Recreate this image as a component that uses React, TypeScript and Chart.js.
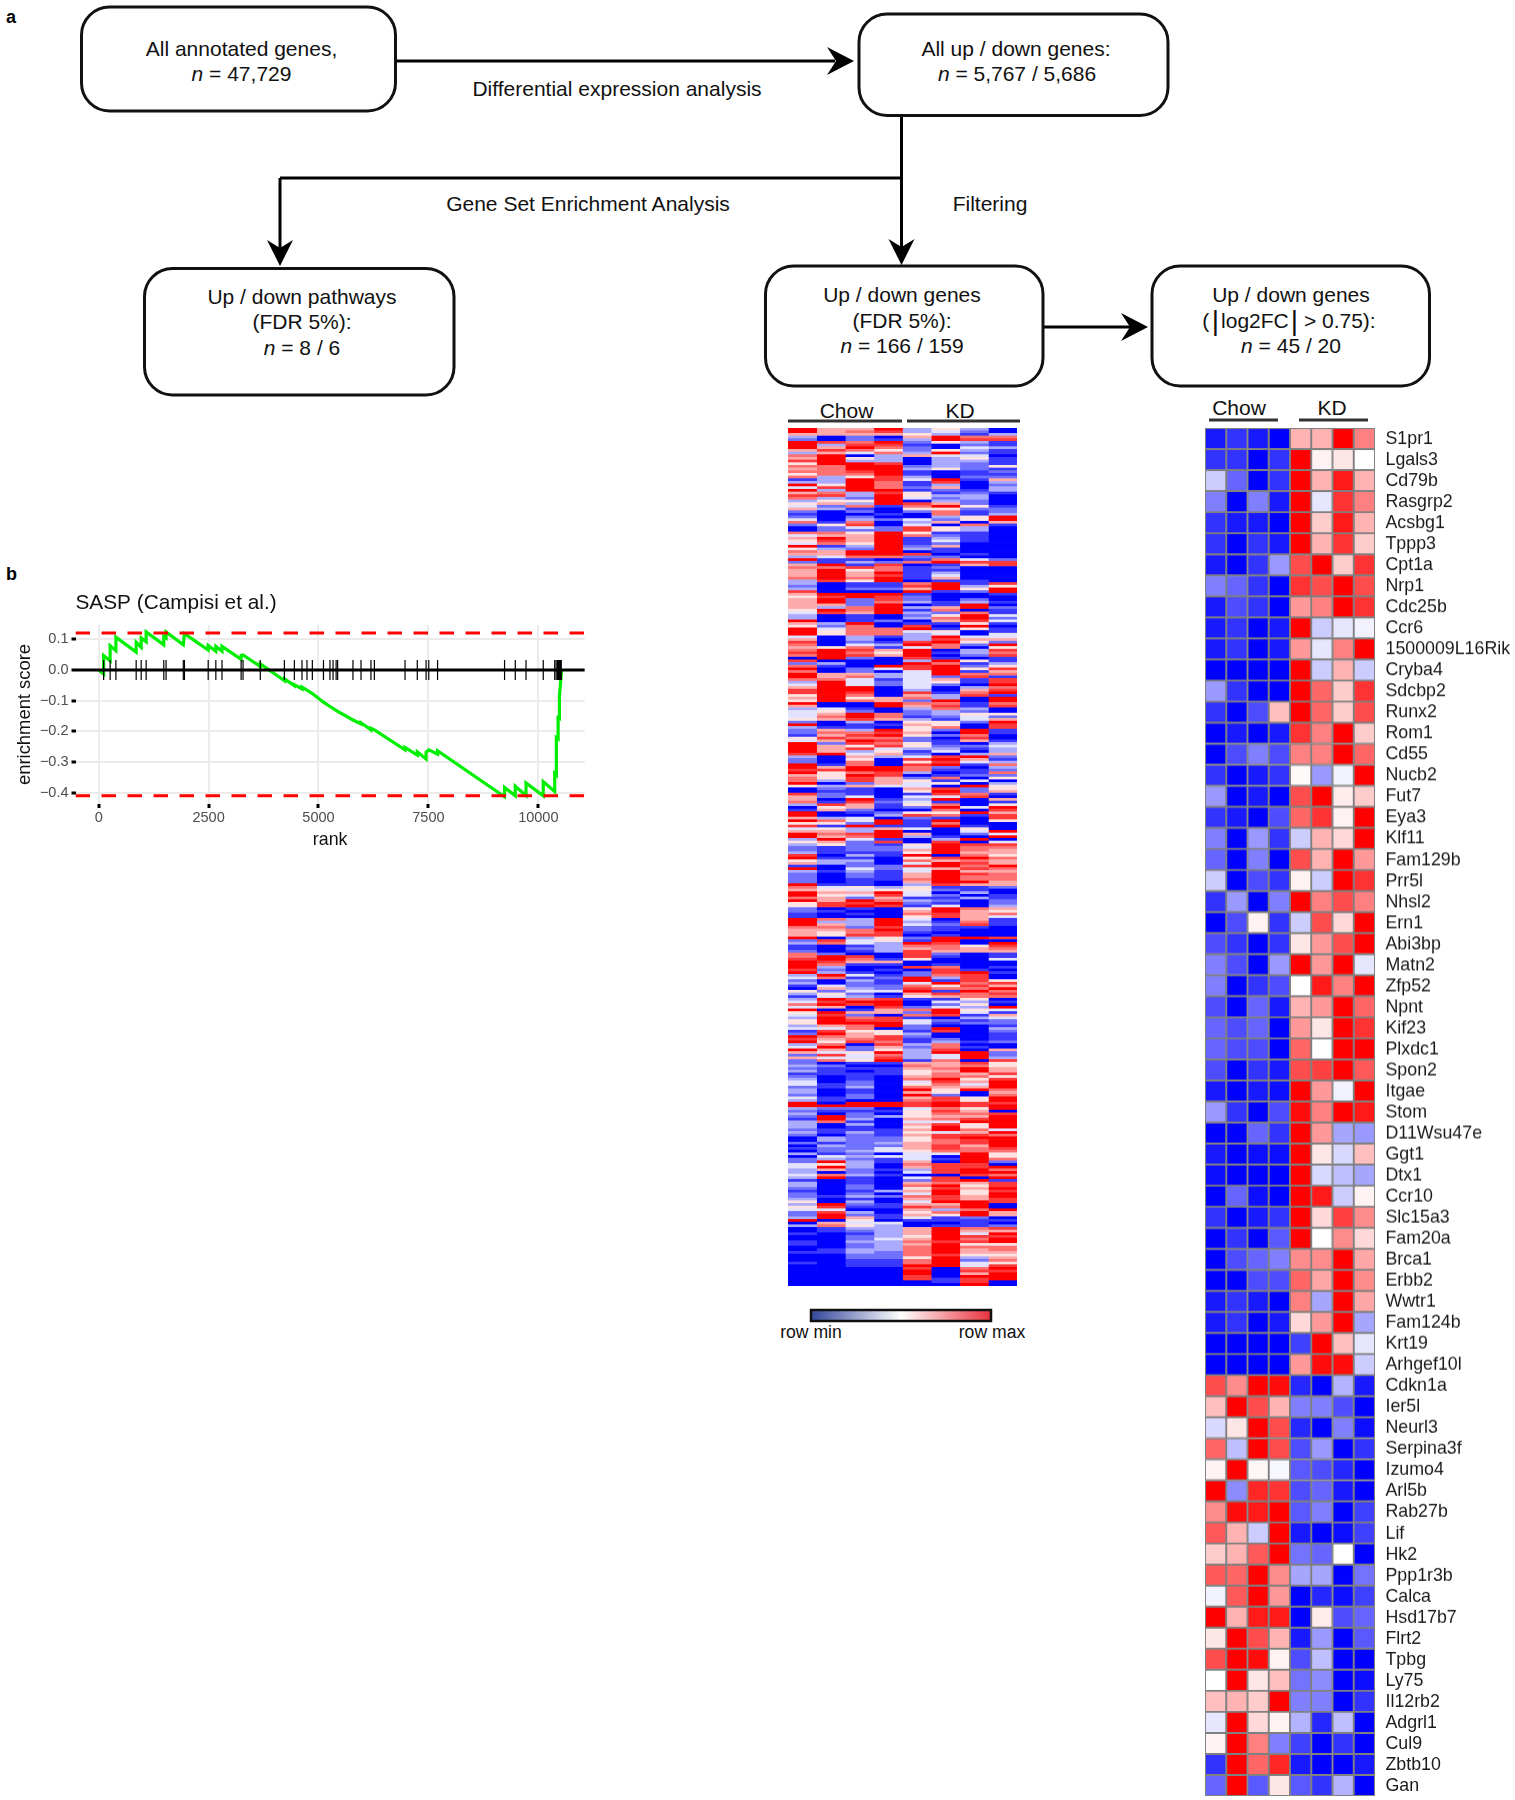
import React, { useEffect, useRef } from "react";
import { Chart, registerables } from "chart.js";

Chart.register(...registerables);

const FONT = '"Liberation Sans", Arial, sans-serif';

// ---------- heatmap, 65 selected genes, values -10 (blue) .. 10 (red) ----------
const geneNames = ["S1pr1","Lgals3","Cd79b","Rasgrp2","Acsbg1","Tppp3","Cpt1a","Nrp1","Cdc25b","Ccr6","1500009L16Rik","Cryba4","Sdcbp2","Runx2","Rom1","Cd55","Nucb2","Fut7","Eya3","Klf11","Fam129b","Prr5l","Nhsl2","Ern1","Abi3bp","Matn2","Zfp52","Npnt","Kif23","Plxdc1","Spon2","Itgae","Stom","D11Wsu47e","Ggt1","Dtx1","Ccr10","Slc15a3","Fam20a","Brca1","Erbb2","Wwtr1","Fam124b","Krt19","Arhgef10l","Cdkn1a","Ier5l","Neurl3","Serpina3f","Izumo4","Arl5b","Rab27b","Lif","Hk2","Ppp1r3b","Calca","Hsd17b7","Flrt2","Tpbg","Ly75","Il12rb2","Adgrl1","Cul9","Zbtb10","Gan"];
const geneValues = [
[-9,-8,-9,-10,3,3,10,5],[-8,-8,-10,-8,10,0.5,1,0],[-2,-6,-10,-8,10,3,9,3],[-5,-10,-5,-9,10,-1,8,5],[-8,-9,-9,-10,10,2,9,3],
[-8,-10,-8,-9,10,3,8,2],[-9,-10,-8,-4,7,10,2,8],[-5,-6,-8,-10,8,7,10,7],[-9,-7,-8,-10,4,5,10,8],[-9,-8,-10,-9,10,-2,-1,-0.5],
[-9,-8,-10,-9,4,-1,5,10],[-10,-10,-10,-10,10,-2,3,-2],[-4,-8,-10,-10,10,6,2,8],[-8,-10,-7,2.5,10,6,2,7],[-10,-9,-10,-9,8,5,10,2],
[-10,-7,-5,-7,5,5,10,6],[-8,-10,-9,-8,0.2,-4,-0.5,10],[-4,-10,-9,-10,7,10,0.7,2],[-8,-9,-10,-7,6,8,0.5,10],[-5,-10,-4,-8,-2,3,1.5,10],
[-6,-10,-5,-10,7,3,10,4],[-2,-10,-7,-8,0.5,-2,10,8],[-8,-4,-10,-5,10,5,7,5],[-10,-7,0.5,-8,-2,7,1.5,10],[-7,-8,-10,-8,1,4,7,10],
[-5,-7,-10,-4,10,4,10,-1],[-5,-10,-8,-7,0,9,5,10],[-7,-10,-6,-9,3,4,10,6],[-6,-7,-6,-10,4,1,10,8],[-6,-7,-7,-10,6,0,10,10],
[-7,-10,-8,-9,7,7.5,10,6.5],[-9,-10,-9,-9.5,10,4,-0.5,10],[-4,-8,-10,-7,9.5,5,10,9],[-10,-10,-6,-8,10,4,-3.5,-4],[-9,-10,-9.5,-9.5,10,1,-1.5,2.5],
[-9.5,-10,-10,-10,10,-1.5,-2.5,-3.5],[-10,-6,-9.5,-10,10,9,-2,0.5],[-8,-10,-9,-8,10,1.5,7.5,4.5],[-10,-8,-10,-6.5,10,0,4.5,1.5],[-10,-7,-6,-5,4.5,4.5,10,3.5],
[-10,-10,-7,-7,6,3.5,10,4.5],[-9,-8,-9,-10,5,-3.5,10,3.5],[-9,-8,-10,-9,1.5,4,10,-3.5],[-10,-10,-10,-10,-7.5,10,2.5,-1],[-10,-10,-10,-10,4,9.5,9.5,-2],
[7,4.5,10,9.5,-8.5,-10,-3,-9],[2.5,10,7,3,-5,-5,-7,-10],[-1.5,1,10,7,-8.5,-10,-5,-9.5],[6,-2.5,10,7,-7,-4,-10,-8],[0.5,10,0.3,-0.3,-6.5,-7,-8.5,-10],
[10,-4.5,8.5,8,-7,-6,-9,-10],[4.5,9.5,9,10,-6.5,-5,-10,-7.5],[6.5,3,-2,10,-9,-10,-9.5,-7.5],[2,3,6.5,10,-5.5,-6,0,-10],[6.5,6,10,4.5,-3.5,-3.5,-10,-5.5],
[-0.5,6.5,10,4,-10,-8.5,-9.5,-7.5],[10,3,9,9,-10,0.8,-7,-6],[1,10,7,3,-9,-4,-10,-6.5],[7,10,9.5,0.5,-7,-2.5,-10,-10],[0,10,1,2.5,-5.5,-4.5,-10,-9.5],
[2.5,3,2,10,-5,-5,-10,-8],[-1,10,1.5,0.5,-3,-8.5,-2.5,-10],[0.5,10,5,-5,-7.5,-10,-8,-10],[-8,10,6,8.5,-9,-10,-10,-9],[-6,10,-6.5,1,-6.5,-8,-3,-10],
];

// ---------- heatmap, 325 FDR 5% genes; digit per cell, 0 (blue) .. 9 (red) ----------
const bulkTop = [
"96693530","96783420","66665313","30206977","20213988",
"98792531","93881021","96972043","68752531","36473921",
"79036440","69530351","89330331","59980321","77992325",
"67993521","77891012","57791011","73583022","13984916",
"33971803","95971302","48972603","93991213","67385121",
"88395330","73294230","35590320","56398620","42717951",
"63105522","20202712","10010713","20200359","40324259",
"71703606","25804071","02428530","02228530","77595110",
"46697210","69691310","58691410","47591200","91392600",
"53293100","76990100","66998010","34772200","91101742",
"21327988","69180168","77871200","69571100","69691300",
"69681400","79791600","38590110","30117918","20118935",
"30226959","80009129","69991001","58982000","69282020",
"69273131","66290190","63793692","59791701","48693271",
"30102594","30103792","90120684","63901151","52708090",
"94779151","95774501","95773404","40313944","60303866",
"80218952","70439729","65714705","79869038","89759137",
"79869028","09208101","80003951","23009713","71098925",
"90248958","70204916","96634977","96734281","77414618",
"39424518","49424209","69904037","89903068","89808179",
"59706381",
];
const bulkMid = [
"69567309","59762909","90097717","60096818","34103730",
"45202320","46972355","47971242","56863146","20305529",
"90116508","31105708","26395291","27786091","16895270",
"58772080","46982161","92875103","96585224","96843313",
"96351403","89462036","30634892","20508961","20705843",
"91708917","96997203","88997112","95783017","65980122",
"75862705","73865140","90264503","53644095","02106825",
"01105926","82101871","62404480","60913906","71824101",
"38615705","05612949","16200708","90125596","90038718",
"63402108","97491905","55291700","81911910","45364050",
"66390049","97896024","96793109","39410390","56280804",
"35215988","21224977","21226976","31115966","80319075",
"91105897","53307676","63204986","10228979","90424687",
"31314966","20216987","20216977","20117977","20106996",
"91103866","74535112","65455210","96694030","95484201",
"76261131","96973202","58892102","58981403","20105976",
"21006965","10107867","10005864","97394061","93393171",
"96394281","77282110","66792100","65781000","65880100",
"90352998","28451900","37439809","10137758","10236767",
"20138666","72008201","79808101","89715004","98660000",
"97110100","93008701","82010810","93102891","39412780",
"47129380","20319185","30214978","14227586","06328779",
"52449197",
];
const bulkEnd = [
"35206878","14315677","39781150","48990431","79890250",
"46082439","90167954","59662941","48207816","39781034",
"59884212","59994122","36792001","44702903","18551802",
"29653001","97682001","86781201","95871312","37083700",
"49262710","96253806","64593992","28473492","64483493",
"27591708","20116685","32007675","21116796","31015696",
"11115768","20106775","30107958","40204869","41205749",
"21307669","30109597","30106506","20209207","41206859",
"31007859","90998988","99998989","32204759","21115860",
"30205778","29235669","19306789","37104499","30306859",
"30105959","21116974","31315469","20216887","03225899",
"03225789","21236789","03226869","12246878","02345777",
"31204495","04344095","23214197","29316092","45307880",
"49306889","36213897","30204899","47310087","39104809",
"10102891","30106768","30207958","20205869","10136958",
"20204959","21327869","30106868","50304998","39216690",
"58118790","44006379","28305796","29216596","39614120",
"90501111","06440010","37530112","01336978","01236966",
"10136949","00235988","00246979","10337889","10236955",
"00237977","01337967","11327966","00227855","00225936",
"00117927","10117945","00119948","00008079","00009088",
"00009069","00008099","00008189","00000180","00000090",
];
const bulkRows = [...bulkTop, ...bulkMid, ...bulkEnd];

// ---------- GSEA panel ----------
const curveRanks = [0,113,113,261,261,392,392,853,853,967,967,1080,1080,1481,1481,1533,1533,1925,1951,2491,2491,2665,2665,2805,2805,3240,3240,3284,3676,3676,4224,4224,4451,4451,4625,4625,4738,4860,5113,5261,5435,5784,5967,5967,6193,6193,6271,6968,6968,7247,7247,7447,7447,7508,7708,7708,9232,9232,9476,9476,9720,9720,10112,10112,10373,10373,10410,10410,10450,10450,10480,10480,10530];
const curveScores = [0,-.013,.047,.03,.079,.063,.107,.058,.09,.074,.104,.092,.124,.082,.109,.104,.124,.082,.118,.065,.08,.061,.077,.061,.077,.035,.047,.049,.011,.02,-.035,-.029,-.051,-.048,-.062,-.056,-.066,-.077,-.105,-.119,-.135,-.163,-.176,-.172,-.195,-.19,-.195,-.26,-.252,-.277,-.267,-.29,-.268,-.26,-.274,-.263,-.413,-.383,-.41,-.379,-.409,-.368,-.41,-.364,-.396,-.337,-.342,-.22,-.224,-.156,-.158,-.084,0];
const hitRanks = [113,261,392,853,967,1080,1481,1533,1925,1951,2491,2665,2805,3240,3284,3676,4224,4451,4625,4738,4860,5113,5261,5331,5401,5435,5784,5967,6193,6271,6968,7247,7447,7508,7708,9232,9476,9720,10112,10373,10405,10435,10450,10462,10475,10490,10500,10510,10521];
const scoreBounds = [0.12, -0.41];
const rankTicks = [0, 2500, 5000, 7500, 10000];
const scoreTicks = [0.1, 0, -0.1, -0.2, -0.3, -0.4];

function cellColor(v: number) {
  const a = Math.min(1, Math.abs(v));
  const c = Math.round(255 * (1 - a));
  return v >= 0 ? `rgb(255,${c},${c})` : `rgb(${c},${c},255)`;
}

function Heatmap({ rows, labels, left, top, width, height, axisWidth, border }: any) {
  const ref = useRef<HTMLCanvasElement>(null);
  useEffect(() => {
    const datasets = Array.from({ length: 8 }, (_, col) => ({
      data: rows.map(() => 1),
      backgroundColor: rows.map((r: number[]) => cellColor(r[col])),
      borderColor: border ? "#808080" : undefined,
      borderWidth: border ? 1.3 : 0,
      borderSkipped: false,
      barPercentage: 1,
      categoryPercentage: 1,
    }));
    const chart = new Chart(ref.current!, {
      type: "bar",
      data: { labels: labels ?? rows.map((_: any, i: number) => String(i + 1)), datasets: datasets as any },
      options: {
        indexAxis: "y",
        animation: false,
        responsive: false,
        layout: { padding: 0 },
        plugins: { legend: { display: false }, tooltip: { enabled: false }, title: { display: false } },
        scales: {
          x: { stacked: true, min: 0, max: 8, display: false },
          y: labels
            ? {
                stacked: true,
                position: "right",
                grid: { display: false, drawTicks: false },
                border: { display: false },
                ticks: { autoSkip: false, padding: 10.5, labelOffset: 0.5, color: "#1a1a1a", font: { family: FONT, size: 17.8 } },
                afterFit: (s: any) => { s.width = axisWidth; s.paddingTop = 0; s.paddingBottom = 0; },
              }
            : { stacked: true, display: false },
        },
      } as any,
    });
    return () => chart.destroy();
  }, []);
  return <canvas ref={ref} width={width} height={height} style={{ position: "absolute", left, top, width, height }} />;
}

function EnrichmentPlot() {
  const ref = useRef<HTMLCanvasElement>(null);
  useEffect(() => {
    const xMin = -527, xMax = 11057;
    const line = (v: number) => [{ x: xMin, y: v }, { x: xMax, y: v }];
    const chart = new Chart(ref.current!, {
      type: "scatter",
      data: {
        datasets: [
          { type: "scatter", data: hitRanks.map((x) => ({ x, y: 0 })), pointStyle: "line", rotation: 90, radius: 10, borderWidth: 1.2, borderColor: "#000", backgroundColor: "#000", order: 0 },
          { type: "line", data: line(0), borderColor: "#000", borderWidth: 3, pointRadius: 0, order: 1 },
          { type: "line", data: line(scoreBounds[0]), borderColor: "#ff0000", borderWidth: 3, borderDash: [14.5, 11.5], pointRadius: 0, order: 2 },
          { type: "line", data: line(scoreBounds[1]), borderColor: "#ff0000", borderWidth: 3, borderDash: [14.5, 11.5], pointRadius: 0, order: 2 },
          { type: "line", data: curveRanks.map((x, i) => ({ x, y: curveScores[i] })), borderColor: "#00ee00", borderWidth: 3.2, pointRadius: 0, tension: 0, order: 3 },
        ] as any,
      },
      options: {
        animation: false,
        responsive: false,
        layout: { padding: { right: 3 } },
        plugins: {
          legend: { display: false },
          tooltip: { enabled: false },
          title: {
            display: true,
            text: "SASP (Campisi et al.)",
            align: "start",
            fullSize: false,
            color: "#111",
            font: { family: FONT, size: 20.8, weight: "normal" },
            padding: { top: 5, bottom: 9 },
          },
        },
        scales: {
          x: {
            type: "linear",
            min: xMin,
            max: xMax,
            afterBuildTicks: (s: any) => { s.ticks = rankTicks.map((value) => ({ value })); },
            afterFit: (s: any) => { s.height = 47; s.paddingLeft = 0; s.paddingRight = 0; },
            grid: { color: "#ebebeb", lineWidth: 2, tickColor: "#000", tickWidth: 3, tickLength: 4 },
            border: { display: false },
            ticks: { color: "#4d4d4d", padding: 1, maxRotation: 0, font: { family: FONT, size: 14.5 }, callback: (v: any) => String(v) },
            title: { display: true, text: "rank", color: "#111", font: { family: FONT, size: 17.8 }, padding: { top: 5.5, bottom: 0 } },
          },
          y: {
            type: "linear",
            min: -0.4365,
            max: 0.1465,
            afterBuildTicks: (s: any) => { s.ticks = scoreTicks.map((value) => ({ value })); },
            afterFit: (s: any) => { s.width = 75.5; s.paddingTop = 0; s.paddingBottom = 0; },
            grid: { color: "#ebebeb", lineWidth: 2, tickColor: "#000", tickWidth: 3, tickLength: 4 },
            border: { display: false },
            ticks: {
              color: "#4d4d4d",
              padding: 3,
              font: { family: FONT, size: 14.5 },
              callback: (v: any) => (v < 0 ? "\u2212" + Math.abs(v).toFixed(1) : Number(v).toFixed(1)),
            },
            title: { display: true, text: "enrichment score", color: "#111", font: { family: FONT, size: 18.4 }, padding: { top: 14, bottom: 0 } },
          },
        },
      } as any,
    });
    return () => chart.destroy();
  }, []);
  return <canvas ref={ref} width={596} height={265} style={{ position: "absolute", left: 0, top: 586, width: 596, height: 265 }} />;
}

const Box = ({ x0, y0, x1, y1 }: any) => (
  <rect x={x0} y={y0} width={x1 - x0} height={y1 - y0} rx={28} ry={28} fill="#fff" stroke="#111" strokeWidth={3} />
);

const ArrowDown = ({ x, y }: any) => (
  <path d={`M${x} ${y} L${x - 13} ${y - 26} L${x} ${y - 18} L${x + 13} ${y - 26} Z`} fill="#000" />
);
const ArrowRight = ({ x, y }: any) => (
  <path d={`M${x} ${y} L${x - 27} ${y - 14} L${x - 18} ${y} L${x - 27} ${y + 14} Z`} fill="#000" />
);

const T = ({ x, y, children, size = 21, anchor = "middle", weight, color = "#111" }: any) => (
  <text x={x} y={y} fontSize={size} textAnchor={anchor} fontWeight={weight} fill={color} dominantBaseline="central" fontFamily={FONT}>
    {children}
  </text>
);
const N = ({ children }: any) => (<><tspan fontStyle="italic">n</tspan>{children}</>);

function Flow() {
  return (
    <svg width={1515} height={1800} style={{ position: "absolute", left: 0, top: 0 }}>
      <T x={11} y={17} size={18} weight="bold" color="#000">a</T>
      <T x={11.5} y={574} size={18} weight="bold" color="#000">b</T>

      <line x1={396} y1={61} x2={835} y2={61} stroke="#000" strokeWidth={3} />
      <ArrowRight x={854} y={61} />
      <line x1={901.5} y1={115} x2={901.5} y2={250} stroke="#000" strokeWidth={3} />
      <line x1={280} y1={178} x2={901.5} y2={178} stroke="#000" strokeWidth={3} />
      <line x1={280} y1={178} x2={280} y2={250} stroke="#000" strokeWidth={3} />
      <ArrowDown x={280} y={266} />
      <ArrowDown x={901.5} y={265} />
      <line x1={1043} y1={327} x2={1130} y2={327} stroke="#000" strokeWidth={3} />
      <ArrowRight x={1148} y={327} />

      <Box x0={81.5} y0={7} x1={395.5} y1={111} />
      <Box x0={859} y0={14} x1={1168} y1={115.5} />
      <Box x0={144.5} y0={268.5} x1={454} y1={395} />
      <Box x0={765.5} y0={266} x1={1043} y1={386} />
      <Box x0={1152} y0={266} x1={1429.5} y1={386} />

      <T x={241.5} y={48}>All annotated genes,</T>
      <T x={241.5} y={73}><N> = 47,729</N></T>
      <T x={1016} y={48}>All up / down genes:</T>
      <T x={1017} y={73}><N> = 5,767 / 5,686</N></T>
      <T x={302} y={296}>Up / down pathways</T>
      <T x={302} y={321}>(FDR 5%):</T>
      <T x={302} y={347}><N> = 8 / 6</N></T>
      <T x={902} y={294}>Up / down genes</T>
      <T x={902} y={320}>(FDR 5%):</T>
      <T x={902} y={345}><N> = 166 / 159</N></T>
      <T x={1291} y={294}>Up / down genes</T>
      <T x={1289} y={320}>(<tspan fontSize={28} dx={2.5}>|</tspan><tspan dx={2}>log2FC</tspan><tspan fontSize={28} dx={2}>|</tspan> &gt; 0.75):</T>
      <T x={1291} y={345}><N> = 45 / 20</N></T>

      <T x={617} y={88.5}>Differential expression analysis</T>
      <T x={588} y={203}>Gene Set Enrichment Analysis</T>
      <T x={990} y={203}>Filtering</T>

      <T x={846.5} y={410}>Chow</T>
      <T x={960} y={410}>KD</T>
      <line x1={788} y1={421} x2={902} y2={421} stroke="#333" strokeWidth={3} />
      <line x1={907} y1={421} x2={1020} y2={421} stroke="#333" strokeWidth={3} />

      <T x={1239} y={407}>Chow</T>
      <T x={1332} y={407}>KD</T>
      <line x1={1209} y1={420} x2={1278} y2={420} stroke="#333" strokeWidth={3} />
      <line x1={1299} y1={420} x2={1368} y2={420} stroke="#333" strokeWidth={3} />

      <defs>
        <linearGradient id="rowScale" x1="0" x2="1" y1="0" y2="0">
          <stop offset="0" stopColor="#33479b" />
          <stop offset="0.5" stopColor="#ffffff" />
          <stop offset="1" stopColor="#e8323c" />
        </linearGradient>
      </defs>
      <rect x={811} y={1310} width={180} height={11} fill="url(#rowScale)" stroke="#111" strokeWidth={2.5} />
      <T x={811} y={1332} size={17.6}>row min</T>
      <T x={992} y={1332} size={17.6}>row max</T>
    </svg>
  );
}

export default function App() {
  const geneRows = geneValues.map((r) => r.map((v) => v / 10));
  const bulk = bulkRows.map((s) => s.split("").map((d) => (Number(d) - 4.5) / 4.5));
  return (
    <div style={{ position: "absolute", left: 0, top: 0, width: 1515, height: 1800, background: "#fff", overflow: "hidden" }}>
      <Flow />
      <Heatmap rows={bulk} left={787.7} top={428} width={229.3} height={858} />
      <Heatmap rows={geneRows} labels={geneNames} left={1205} top={428.3} width={310} height={1367.7} axisWidth={140} border />
      <EnrichmentPlot />
    </div>
  );
}
